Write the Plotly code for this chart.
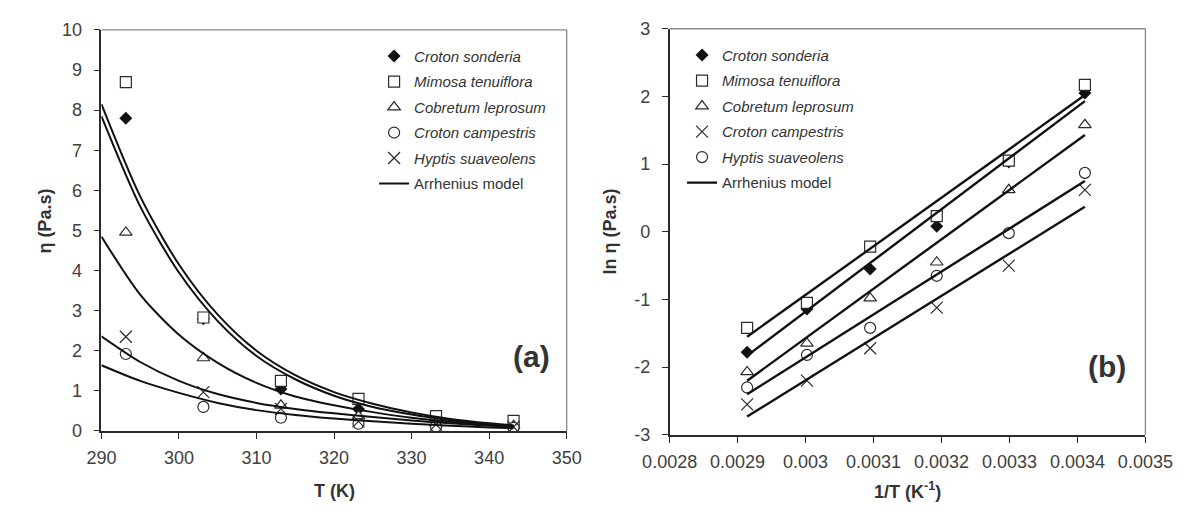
import plotly.graph_objects as go

# ---------------- data ----------------
SPECIES = ["Croton sonderia", "Mimosa tenuiflora", "Cobretum leprosum",
           "Croton campestris", "Hyptis suaveolens"]
MODEL_NAME = "Arrhenius model"

# panel (a): viscosity vs temperature
T_POINTS = [293.15, 303.15, 313.15, 323.15, 333.15, 343.15]
ETA = {
    "Croton sonderia":   [7.80, 2.80, 1.05, 0.55, 0.33, 0.17],
    "Mimosa tenuiflora": [8.70, 2.83, 1.25, 0.80, 0.37, 0.25],
    "Cobretum leprosum": [4.95, 1.82, 0.64, 0.37, 0.19, 0.13],
    "Croton campestris": [1.92, 0.60, 0.33, 0.18, 0.11, 0.08],
    "Hyptis suaveolens": [2.35, 0.97, 0.55, 0.24, 0.16, 0.10],
}
T_CURVE = [290, 295, 300, 305, 310, 315, 320, 325, 330, 335, 340, 343.15]
ETA_CURVE = {
    "Mimosa tenuiflora": [8.15, 5.85, 4.15, 2.90, 2.00, 1.39, 0.97, 0.68, 0.46, 0.30, 0.19, 0.14],
    "Croton sonderia":   [7.85, 5.60, 3.95, 2.74, 1.87, 1.29, 0.88, 0.60, 0.41, 0.27, 0.17, 0.13],
    "Cobretum leprosum": [4.85, 3.40, 2.40, 1.70, 1.20, 0.86, 0.64, 0.47, 0.33, 0.23, 0.16, 0.12],
    "Hyptis suaveolens": [2.36, 1.72, 1.25, 0.92, 0.70, 0.55, 0.44, 0.35, 0.26, 0.19, 0.13, 0.10],
    "Croton campestris": [1.64, 1.25, 0.95, 0.70, 0.52, 0.40, 0.31, 0.24, 0.18, 0.13, 0.09, 0.07],
}

# panel (b): ln(viscosity) vs 1/T
INV_T = [0.003411, 0.003299, 0.003193, 0.003095, 0.003002, 0.002914]
LN_ETA = {
    "Croton sonderia":   [2.05, 1.03, 0.08, -0.55, -1.14, -1.78],
    "Mimosa tenuiflora": [2.17, 1.05, 0.23, -0.22, -1.05, -1.42],
    "Cobretum leprosum": [1.58, 0.62, -0.45, -0.98, -1.65, -2.07],
    "Croton campestris": [0.62, -0.50, -1.12, -1.72, -2.20, -2.55],
    "Hyptis suaveolens": [0.87, -0.02, -0.65, -1.42, -1.82, -2.30],
}
INV_T_LINE = [0.002914, 0.003411]
LN_LINE = {
    "Mimosa tenuiflora": [-1.55, 2.02],
    "Croton sonderia":   [-1.83, 1.93],
    "Cobretum leprosum": [-2.20, 1.43],
    "Hyptis suaveolens": [-2.40, 0.75],
    "Croton campestris": [-2.73, 0.37],
}

X_TICKS_A = [290, 300, 310, 320, 330, 340, 350]
Y_TICKS_A = [0, 1, 2, 3, 4, 5, 6, 7, 8, 9, 10]
X_TICKS_B = [0.0028, 0.0029, 0.0030, 0.0031, 0.0032, 0.0033, 0.0034, 0.0035]
X_TICKTEXT_B = ["0.0028", "0.0029", "0.003", "0.0031", "0.0032", "0.0033", "0.0034", "0.0035"]
Y_TICKS_B = [-3, -2, -1, 0, 1, 2, 3]
Y_TICKTEXT_B = ["-3", "-2", "-1", "0", "1", "2", "3"]

# ---------------- styles ----------------
INK = "#2b2b2b"
TXT = "#404040"
FONT = "Liberation Sans, Arial, sans-serif"

SYM_A = {"Croton sonderia": "diamond", "Mimosa tenuiflora": "square",
         "Cobretum leprosum": "triangle-up", "Croton campestris": "circle",
         "Hyptis suaveolens": "x-thin-open"}
SYM_B = {"Croton sonderia": "diamond", "Mimosa tenuiflora": "square",
         "Cobretum leprosum": "triangle-up", "Croton campestris": "x-thin-open",
         "Hyptis suaveolens": "circle"}
SIZE = {"diamond": 10, "square": 11, "triangle-up": 11,
        "circle": 11, "x-thin-open": 12}
ORDER_B = ["Croton sonderia", "Mimosa tenuiflora", "Cobretum leprosum",
           "Croton campestris", "Hyptis suaveolens"]


def marker(sym):
    if sym == "diamond":
        return dict(symbol=sym, size=SIZE[sym], color="#111", line=dict(width=0))
    if sym == "x-thin-open":
        return dict(symbol=sym, size=SIZE[sym], color=INK, line=dict(width=1.2, color=INK))
    return dict(symbol=sym, size=SIZE[sym], color="white", line=dict(width=1.2, color=INK))


fig = go.Figure()

# panel (a) markers
for i, sp in enumerate(SPECIES):
    fig.add_trace(go.Scatter(
        x=T_POINTS, y=ETA[sp], mode="markers", name=f"<i>{sp}</i>",
        marker=marker(SYM_A[sp]), xaxis="x", yaxis="y",
        legend="legend", legendgroup=f"a{i}"))
# panel (a) curves
for j, (sp, vals) in enumerate(ETA_CURVE.items()):
    fig.add_trace(go.Scatter(
        x=T_CURVE, y=vals, mode="lines", name=MODEL_NAME,
        line=dict(color="#111", width=2, shape="spline", smoothing=0.8),
        xaxis="x", yaxis="y", legend="legend", legendgroup="amodel",
        showlegend=(j == 0)))

# panel (b) markers
for i, sp in enumerate(ORDER_B):
    fig.add_trace(go.Scatter(
        x=INV_T, y=LN_ETA[sp], mode="markers", name=f"<i>{sp}</i>",
        marker=marker(SYM_B[sp]), xaxis="x2", yaxis="y2",
        legend="legend2", legendgroup=f"b{i}"))
# panel (b) lines
for j, (sp, vals) in enumerate(LN_LINE.items()):
    fig.add_trace(go.Scatter(
        x=INV_T_LINE, y=vals, mode="lines", name=MODEL_NAME,
        line=dict(color="#111", width=2.4),
        xaxis="x2", yaxis="y2", legend="legend2", legendgroup="bmodel",
        showlegend=(j == 0)))

W, H = 1202, 515
LA = (77, 565, 20.7, 438)    # left, right, top, bottom (px)
RB = (673, 1172, 19.5, 442)


def dom_x(p):
    return [p[0] / W, p[1] / W]


def dom_y(p):
    return [1 - p[3] / H, 1 - p[2] / H]


axis_common = dict(showgrid=False, zeroline=False, showline=True, linecolor=INK,
                   linewidth=1.5, ticks="outside", ticklen=6, tickwidth=1.3,
                   tickcolor=INK, tickfont=dict(family=FONT, size=18, color=TXT))

fig.update_layout(
    width=W, height=H, margin=dict(l=0, r=0, t=0, b=0),
    paper_bgcolor="white", plot_bgcolor="white",
    font=dict(family=FONT, color=TXT),
    xaxis=dict(domain=dom_x(LA), range=[290, 350], tickvals=X_TICKS_A,
               anchor="y", ticklabelstandoff=4, **axis_common),
    yaxis=dict(domain=dom_y(LA), range=[0, 10], tickvals=Y_TICKS_A,
               anchor="x", ticklabelstandoff=8, **axis_common),
    xaxis2=dict(domain=dom_x(RB), range=[0.0028, 0.0035], tickvals=X_TICKS_B,
                ticktext=X_TICKTEXT_B, anchor="y2", ticklabelstandoff=4, **axis_common),
    yaxis2=dict(domain=dom_y(RB), range=[-3, 3], tickvals=Y_TICKS_B,
                ticktext=Y_TICKTEXT_B, anchor="x2", ticklabelstandoff=8, **axis_common),
    legend=dict(x=363 / W, y=1 - 31 / H, xanchor="left", yanchor="top",
                bgcolor="rgba(0,0,0,0)", borderwidth=0, tracegroupgap=3,
                font=dict(family=FONT, size=15, color="#333")),
    legend2=dict(x=686 / W, y=1 - 30 / H, xanchor="left", yanchor="top",
                 bgcolor="rgba(0,0,0,0)", borderwidth=0, tracegroupgap=3,
                 font=dict(family=FONT, size=15, color="#333")),
    showlegend=True,
)

# gray top/right frame lines
for xr, yr in (("x domain", "y domain"), ("x2 domain", "y2 domain")):
    fig.add_shape(type="line", xref=xr, yref=yr, x0=0, x1=1, y0=1, y1=1,
                  line=dict(color="#8a8a8a", width=1.3))
    fig.add_shape(type="line", xref=xr, yref=yr, x0=1, x1=1, y0=0, y1=1,
                  line=dict(color="#8a8a8a", width=1.3))

ann = dict(xref="paper", yref="paper", showarrow=False, xanchor="center", yanchor="middle")
fig.add_annotation(text="<b>η (Pa.s)</b>", x=18 / W, y=1 - 220 / H, textangle=-90,
                   font=dict(family=FONT, size=18, color="#333"), **ann)
fig.add_annotation(text="<b>T (K)</b>", x=322 / W, y=1 - 500 / H,
                   font=dict(family=FONT, size=18, color="#333"), **ann)
fig.add_annotation(text="<b>ln η (Pa.s)</b>", x=610 / W, y=1 - 231 / H, textangle=-90,
                   font=dict(family=FONT, size=18, color="#333"), **ann)
fig.add_annotation(text="<b>1/T (K<sup>-1</sup>)</b>", x=923 / W, y=1 - 500 / H,
                   font=dict(family=FONT, size=18, color="#333"), **ann)
fig.add_annotation(text="<b>(a)</b>", x=528 / W, y=1 - 361 / H,
                   font=dict(family=FONT, size=30, color="#333"), **ann)
fig.add_annotation(text="<b>(b)</b>", x=1132 / W, y=1 - 371 / H,
                   font=dict(family=FONT, size=30, color="#333"), **ann)

fig.write_html("out.html")
